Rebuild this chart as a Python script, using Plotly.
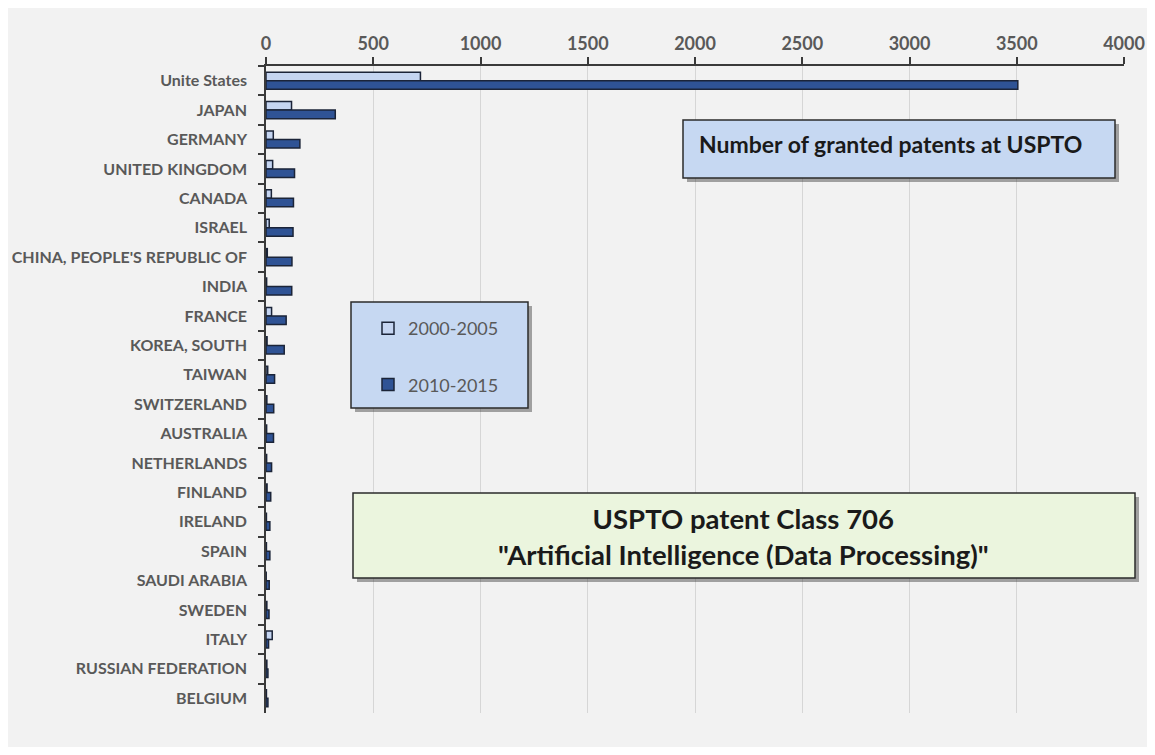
import plotly.graph_objects as go

# countries in chart order (top to bottom)
countries = ["Unite States", "JAPAN", "GERMANY", "UNITED KINGDOM", "CANADA", "ISRAEL",
             "CHINA, PEOPLE'S REPUBLIC OF", "INDIA", "FRANCE", "KOREA, SOUTH", "TAIWAN",
             "SWITZERLAND", "AUSTRALIA", "NETHERLANDS", "FINLAND", "IRELAND", "SPAIN",
             "SAUDI ARABIA", "SWEDEN", "ITALY", "RUSSIAN FEDERATION", "BELGIUM"]

# granted patents, 2000-2005
p2000 = [720, 119, 34, 31, 25, 15, 6, 3, 26, 5, 8, 4, 3, 3, 5, 2, 2, 1, 4, 29, 4, 2]
# granted patents, 2010-2015
p2010 = [3505, 323, 158, 133, 128, 126, 121, 120, 94, 85, 40, 36, 35, 26, 22, 18, 18, 15, 14, 12, 9, 9]

ticks = [0, 500, 1000, 1500, 2000, 2500, 3000, 3500, 4000]

gray = "#595959"
edge = "#1b2438"

fig = go.Figure()
fig.add_trace(go.Bar(y=countries, x=p2000, orientation="h", name="2000-2005",
                     legendgroup="a",
                     marker=dict(color="#c5d5f1", line=dict(color=edge, width=1.5))))
fig.add_trace(go.Bar(y=countries, x=p2010, orientation="h", name="2010-2015",
                     legendgroup="b",
                     marker=dict(color="#2f5395", line=dict(color=edge, width=1.5))))

# page pixel -> paper (plot area sits at 266..1124 x 66..713 on the page)
def px(v):
    return (v - 266) / 858.0

def py(v):
    return (713 - v) / 647.0

def box(x0, y0, x1, y1, fill):
    return [dict(type="rect", xref="paper", yref="paper", layer="above",
                 x0=px(x0 + 4), x1=px(x1 + 4), y0=py(y1 + 4), y1=py(y0 + 4),
                 fillcolor="rgba(60,60,60,0.45)", line=dict(width=0)),
            dict(type="rect", xref="paper", yref="paper", layer="above",
                 x0=px(x0), x1=px(x1), y0=py(y1), y1=py(y0),
                 fillcolor=fill, line=dict(color="#2b2b2b", width=1.5))]

shapes = []
shapes += box(683, 120, 1115, 178, "#c6d8f2")
shapes += box(351, 302, 528, 408, "#c6d8f2")
shapes += box(353, 493, 1135, 578, "#ebf5de")

annotations = [
    dict(xref="paper", yref="paper", x=px(890), y=py(144), xanchor="center", yanchor="middle",
         showarrow=False, text="Number of granted patents at USPTO",
         font=dict(family="Lato", size=23, color="#1a1a1a", weight="bold")),
    dict(xref="paper", yref="paper", x=px(743), y=py(536), xanchor="center", yanchor="middle",
         showarrow=False,
         text="USPTO patent Class 706<br>\"Artificial Intelligence (Data Processing)\"",
         font=dict(family="Lato", size=27.5, color="#1a1a1a", weight="bold")),
]

# figure sits inside the page's 8px body margin
fig.update_layout(
    width=1139, height=739,
    margin=dict(l=258, r=23, t=58, b=34),
    paper_bgcolor="#f2f2f2", plot_bgcolor="#f2f2f2",
    barmode="group", bargap=0.42, bargroupgap=0,
    shapes=shapes, annotations=annotations,
    legend=dict(x=px(368), y=py(310), xanchor="left", yanchor="top",
                bgcolor="rgba(0,0,0,0)", tracegroupgap=30, itemwidth=30,
                font=dict(family="Lato", size=18, color=gray)),
    font=dict(family="Lato"),
)
fig.update_xaxes(side="top", range=[0, 4000], tickvals=ticks, ticktext=[str(t) for t in ticks],
                 showgrid=True, gridcolor="#d6d6d6", gridwidth=1, zeroline=False,
                 showline=True, linecolor="#3a3a3a", linewidth=1.5, automargin=False,
                 ticks="outside", ticklen=7, tickcolor="#3a3a3a", tickwidth=1.5,
                 tickfont=dict(family="Lato", size=18, color=gray, weight="bold"))
fig.update_yaxes(autorange="reversed", showline=True, linecolor="#3a3a3a", linewidth=1.5,
                 ticks="outside", tickson="boundaries", ticklen=6, tickcolor="#3a3a3a",
                 tickwidth=1.5, showgrid=False, ticklabelstandoff=14, automargin=False,
                 tickfont=dict(family="Lato", size=16, color=gray, weight="bold"))

fig.write_html("out.html")
